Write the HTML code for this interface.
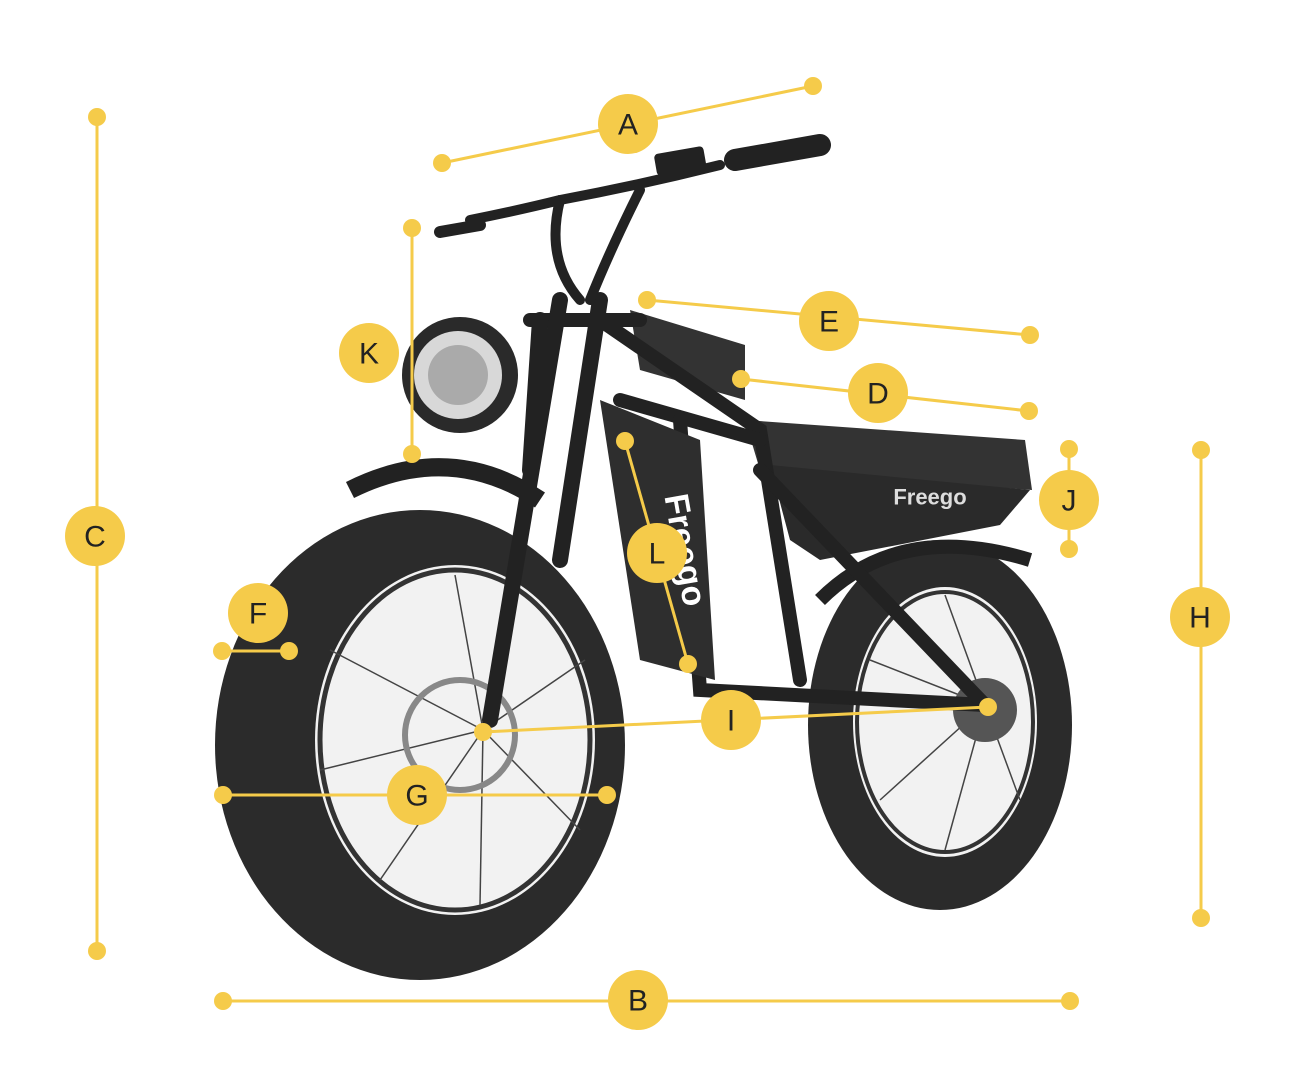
<!DOCTYPE html>
<html><head><meta charset="utf-8"><style>
html,body{margin:0;padding:0;background:#fff;}
svg{display:block}
text{font-family:"Liberation Sans",sans-serif;font-size:30px;fill:#222;text-anchor:middle;dominant-baseline:central}
</style></head><body>
<svg width="1313" height="1082" viewBox="0 0 1313 1082" xmlns="http://www.w3.org/2000/svg">
<!-- bike -->
<g>
 <!-- rear wheel -->
 <ellipse cx="940" cy="725" rx="132" ry="185" fill="#2b2b2b"/>
 <ellipse cx="945" cy="722" rx="92" ry="135" fill="#f2f2f2"/>
 <ellipse cx="945" cy="722" rx="88" ry="130" fill="none" stroke="#333" stroke-width="4"/>
 <g stroke="#444" stroke-width="1.5">
  <line x1="945" y1="595" x2="985" y2="705"/><line x1="870" y1="660" x2="985" y2="705"/><line x1="880" y1="800" x2="985" y2="705"/><line x1="945" y1="850" x2="985" y2="705"/><line x1="1020" y1="800" x2="985" y2="705"/>
 </g>
 <circle cx="985" cy="710" r="32" fill="#555"/>
 <!-- rear fender -->
 <path d="M820 600 Q900 520 1030 560" stroke="#222" stroke-width="14" fill="none"/>
 <!-- seat / rack -->
 <path d="M745 420 L1025 440 L1032 490 L760 470 Z" fill="#333"/>
 <path d="M770 465 L1030 490 L1000 525 L820 560 L790 540 Z" fill="#2a2a2a"/>
 <!-- tank/battery top -->
 <path d="M630 310 L745 345 L745 400 L640 370 Z" fill="#333"/>
 <!-- frame -->
 <g stroke="#222" stroke-width="14" fill="none" stroke-linecap="round">
  <path d="M600 320 L760 430 L800 680"/>
  <path d="M620 400 L760 440"/>
  <path d="M680 420 L700 690 L985 705"/>
  <path d="M760 470 L985 705"/>
  <path d="M530 320 L640 320"/>
 </g>
 <!-- downtube battery -->
 <path d="M600 400 L700 440 L715 680 L640 660 Z" fill="#2e2e2e"/>
 <text x="685" y="550" style="fill:#fff;font-size:34px;font-weight:bold" transform="rotate(80 685 550)">Freego</text>
 <text x="930" y="497" style="fill:#ddd;font-size:22px;font-weight:bold">Freego</text>
 <!-- front wheel -->
 <ellipse cx="420" cy="745" rx="205" ry="235" fill="#2b2b2b"/>
 <ellipse cx="455" cy="740" rx="140" ry="175" fill="#f2f2f2"/>
 <ellipse cx="455" cy="740" rx="135" ry="170" fill="none" stroke="#333" stroke-width="5"/>
 <g stroke="#444" stroke-width="1.5">
  <line x1="455" y1="575" x2="483" y2="730"/><line x1="330" y1="650" x2="483" y2="730"/><line x1="320" y1="770" x2="483" y2="730"/><line x1="380" y1="880" x2="483" y2="730"/><line x1="480" y1="905" x2="483" y2="730"/><line x1="580" y1="830" x2="483" y2="730"/><line x1="585" y1="660" x2="483" y2="730"/>
 </g>
 <circle cx="460" cy="735" r="55" fill="none" stroke="#888" stroke-width="6"/>
 <!-- front fender -->
 <path d="M350 490 Q450 440 540 500" stroke="#222" stroke-width="18" fill="none"/>
 <!-- forks -->
 <g stroke="#222" stroke-width="16" stroke-linecap="round" fill="none">
  <path d="M560 300 L490 720"/>
  <path d="M600 300 L560 560"/>
  <path d="M540 320 L530 470"/>
 </g>
 <!-- headlight -->
 <circle cx="460" cy="375" r="58" fill="#2a2a2a"/>
 <circle cx="458" cy="375" r="44" fill="#d8d8d8"/>
 <circle cx="458" cy="375" r="30" fill="#aaa"/>
 <!-- handlebars -->
 <g stroke="#222" stroke-width="10" stroke-linecap="round" fill="none">
  <path d="M470 220 Q520 210 560 200 Q640 185 720 165"/>
  <path d="M560 200 Q545 260 580 300"/>
  <path d="M640 190 Q610 250 590 300"/>
 </g>
 <path d="M735 160 L820 145" stroke="#222" stroke-width="22" stroke-linecap="round"/>
 <path d="M440 232 L480 225" stroke="#222" stroke-width="12" stroke-linecap="round"/>
 <rect x="655" y="150" width="50" height="22" rx="4" fill="#222" transform="rotate(-10 680 160)"/>
</g>
<!-- annotations -->
<g stroke="#f5cb4a" stroke-width="3" fill="none">
 <line x1="442" y1="163" x2="813" y2="86"/>
 <line x1="97" y1="117" x2="97" y2="951"/>
 <line x1="223" y1="1001" x2="1070" y2="1001"/>
 <line x1="1201" y1="450" x2="1201" y2="918"/>
 <line x1="647" y1="300" x2="1030" y2="335"/>
 <line x1="741" y1="379" x2="1029" y2="411"/>
 <line x1="412" y1="228" x2="412" y2="454"/>
 <line x1="1069" y1="449" x2="1069" y2="549"/>
 <line x1="625" y1="441" x2="688" y2="664"/>
 <line x1="222" y1="651" x2="289" y2="651"/>
 <line x1="223" y1="795" x2="607" y2="795"/>
 <line x1="483" y1="732" x2="988" y2="707"/>
</g>
<g fill="#f5cb4a">
 <circle cx="442" cy="163" r="9"/><circle cx="813" cy="86" r="9"/>
 <circle cx="97" cy="117" r="9"/><circle cx="97" cy="951" r="9"/>
 <circle cx="223" cy="1001" r="9"/><circle cx="1070" cy="1001" r="9"/>
 <circle cx="1201" cy="450" r="9"/><circle cx="1201" cy="918" r="9"/>
 <circle cx="647" cy="300" r="9"/><circle cx="1030" cy="335" r="9"/>
 <circle cx="741" cy="379" r="9"/><circle cx="1029" cy="411" r="9"/>
 <circle cx="412" cy="228" r="9"/><circle cx="412" cy="454" r="9"/>
 <circle cx="1069" cy="449" r="9"/><circle cx="1069" cy="549" r="9"/>
 <circle cx="625" cy="441" r="9"/><circle cx="688" cy="664" r="9"/>
 <circle cx="222" cy="651" r="9"/><circle cx="289" cy="651" r="9"/>
 <circle cx="223" cy="795" r="9"/><circle cx="607" cy="795" r="9"/>
 <circle cx="483" cy="732" r="9"/><circle cx="988" cy="707" r="9"/>
 <circle cx="628" cy="124" r="30"/><circle cx="95" cy="536" r="30"/>
 <circle cx="638" cy="1000" r="30"/><circle cx="1200" cy="617" r="30"/>
 <circle cx="829" cy="321" r="30"/><circle cx="878" cy="393" r="30"/>
 <circle cx="369" cy="353" r="30"/><circle cx="1069" cy="500" r="30"/>
 <circle cx="657" cy="553" r="30"/><circle cx="258" cy="613" r="30"/>
 <circle cx="417" cy="795" r="30"/><circle cx="731" cy="720" r="30"/>
</g>
<text x="628" y="125">A</text><text x="95" y="537">C</text>
<text x="638" y="1001">B</text><text x="1200" y="618">H</text>
<text x="829" y="322">E</text><text x="878" y="394">D</text>
<text x="369" y="354">K</text><text x="1069" y="501">J</text>
<text x="657" y="554">L</text><text x="258" y="614">F</text>
<text x="417" y="796">G</text><text x="731" y="721">I</text>
</svg>
</body></html>
